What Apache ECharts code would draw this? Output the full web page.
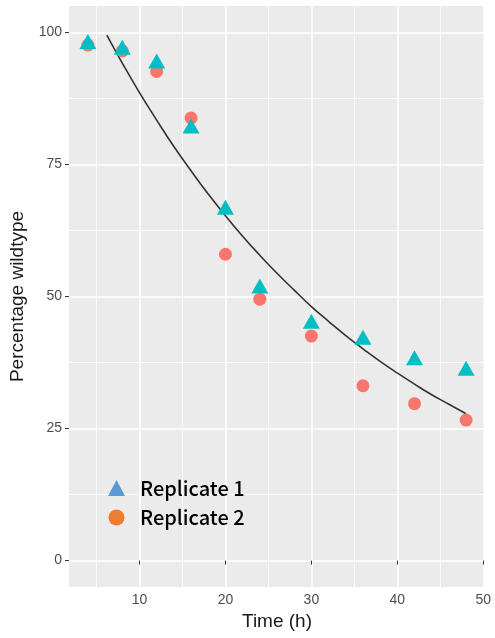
<!DOCTYPE html>
<html>
<head>
<meta charset="utf-8">
<script src="https://cdn.jsdelivr.net/npm/echarts@6/dist/echarts.min.js"></script>
<style>
  html, body { margin: 0; padding: 0; background: #ffffff; }
  #chart { width: 495px; height: 638px; }
</style>
</head>
<body>
<div id="chart"></div>
<script>
// Sampling times (h)
const timesH = [4, 8, 12, 16, 20, 24, 30, 36, 42, 48];
// Percentage wildtype measured in each replicate
const replicate1 = [98.3, 97.2, 94.6, 82.3, 66.9, 52.0, 45.3, 42.3, 38.4, 36.4];
const replicate2 = [97.6, 96.5, 92.6, 83.8, 58.0, 49.5, 42.5, 33.1, 29.7, 26.6];
// Fitted decay curve
const fitTimes = [6.2, 8, 10, 12, 14, 16, 18, 20, 22, 24, 26, 28, 30, 32, 34, 36, 38, 40, 42, 44, 46, 48];
const fitValues = [99.5, 94.2, 88.6, 83.4, 78.4, 73.8, 69.4, 65.3, 61.4, 57.8, 54.4, 51.2, 48.1, 45.3, 42.6, 40.1, 37.7, 35.5, 33.4, 31.4, 29.6, 27.8];
// Axis ticks
const xMajorTicks = [10, 20, 30, 40, 50];
const xMinorTicks = [5, 15, 25, 35, 45];
const yMajorTicks = [0, 25, 50, 75, 100];
const yMinorTicks = [12.5, 37.5, 62.5, 87.5];

const pair = (xs, ys) => xs.map((x, i) => [x, ys[i]]);

const axisFont = 'Liberation Sans, Arial, sans-serif';
const xRange = { min: 1.8, max: 50.2 };
const yRange = { min: -5, max: 105 };

function majorAxis(extra) {
  return Object.assign({
    type: 'value',
    axisLine: { show: false },
    axisTick: { show: true, length: 4, lineStyle: { color: '#333333', width: 1 } },
    axisLabel: { show: true, color: '#4d4d4d', fontFamily: axisFont, fontSize: 14 },
    splitLine: { show: true, lineStyle: { color: '#ffffff', width: 1.5 } },
    nameTextStyle: { color: '#1a1a1a', fontFamily: axisFont, fontSize: 19 }
  }, extra);
}
function minorAxis(extra) {
  return Object.assign({
    type: 'value',
    axisLine: { show: false },
    axisTick: { show: false },
    axisLabel: { show: false },
    splitLine: { show: true, lineStyle: { color: '#ffffff', width: 0.8 } }
  }, extra);
}

const chart = echarts.init(document.getElementById('chart'), null, { renderer: 'canvas' });
chart.setOption({
  animation: false,
  backgroundColor: '#ffffff',
  grid: { left: 69, right: 10, top: 6, bottom: 51, show: true, backgroundColor: '#ebebeb', borderWidth: 0, containLabel: false },
  xAxis: [
    minorAxis(Object.assign({ position: 'bottom', axisTick: { show: false, customValues: xMinorTicks } }, xRange)),
    majorAxis(Object.assign({
      position: 'bottom',
      name: 'Time (h)', nameLocation: 'middle', nameGap: 23,
      axisTick: { show: true, length: 4, customValues: xMajorTicks, lineStyle: { color: '#333333', width: 1 } },
      axisLabel: { show: true, margin: 6, customValues: xMajorTicks, color: '#4d4d4d', fontFamily: axisFont, fontSize: 14 }
    }, xRange))
  ],
  yAxis: [
    minorAxis(Object.assign({ position: 'left', axisTick: { show: false, customValues: yMinorTicks } }, yRange)),
    majorAxis(Object.assign({
      position: 'left',
      name: 'Percentage wildtype', nameLocation: 'middle', nameGap: 41,
      axisTick: { show: true, length: 4, customValues: yMajorTicks, lineStyle: { color: '#333333', width: 1 } },
      axisLabel: { show: true, margin: 7, customValues: yMajorTicks, color: '#4d4d4d', fontFamily: axisFont, fontSize: 14 }
    }, yRange))
  ],
  legend: {
    orient: 'vertical',
    left: 103,
    top: 473,
    itemWidth: 17,
    itemHeight: 16,
    itemGap: 9.5,
    selectedMode: false,
    textStyle: { color: '#000000', fontFamily: 'Noto Sans CJK KR', fontSize: 20, fontWeight: 500, padding: [0, 0, 0, 10] },
    data: [
      { name: 'Replicate 1', icon: 'triangle', itemStyle: { color: '#5b9bd5' } },
      { name: 'Replicate 2', icon: 'circle', itemStyle: { color: '#ed7d31' } }
    ]
  },
  series: [
    {
      name: 'Fit', type: 'line', xAxisIndex: 1, yAxisIndex: 1,
      data: pair(fitTimes, fitValues), smooth: true, showSymbol: false,
      lineStyle: { color: '#333333', width: 1.6 }, z: 2
    },
    {
      name: 'Replicate 2', type: 'scatter', xAxisIndex: 1, yAxisIndex: 1,
      data: pair(timesH, replicate2), symbol: 'circle', symbolSize: 13,
      itemStyle: { color: '#f8766d', opacity: 1 }, z: 3
    },
    {
      name: 'Replicate 1', type: 'scatter', xAxisIndex: 1, yAxisIndex: 1,
      data: pair(timesH, replicate1), symbol: 'triangle', symbolSize: [17, 15],
      itemStyle: { color: '#00bfc4', opacity: 1 }, z: 4
    }
  ]
});
</script>
</body>
</html>
